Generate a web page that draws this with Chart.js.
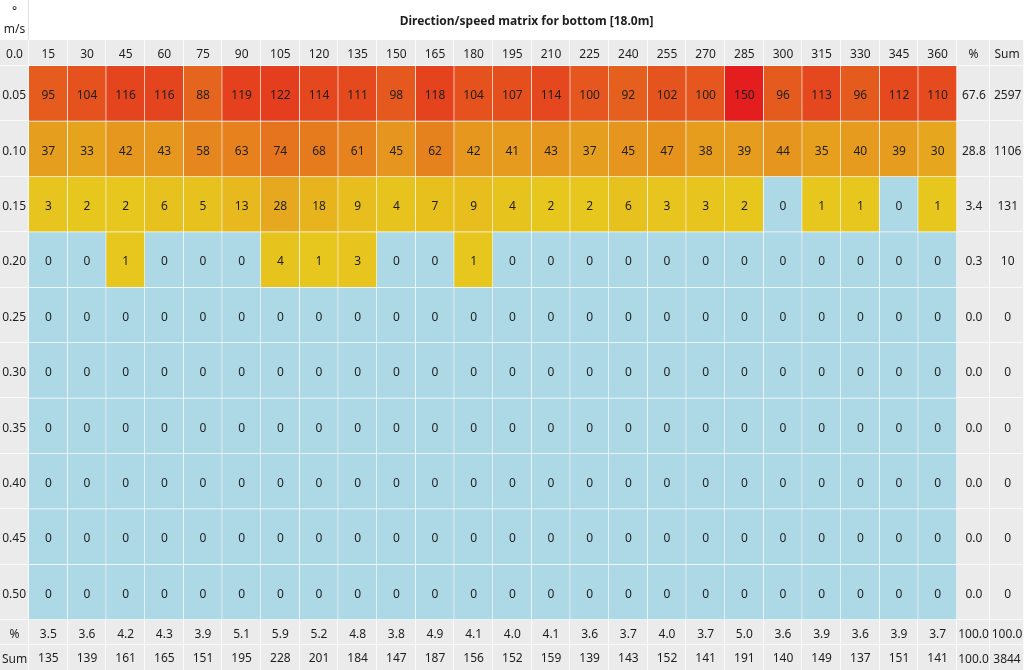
<!DOCTYPE html>
<html>
<head>
<meta charset="utf-8">
<script src="https://cdn.jsdelivr.net/npm/chart.js@4"></script>
<style>
html, body { margin: 0; padding: 0; background: #fff; }
#wrap { width: 1024px; height: 670px; }
</style>
</head>
<body>
<div id="wrap"><canvas id="matrix"></canvas></div>
<script>
const chart_title = 'Direction/speed matrix for bottom [18.0m]';
const directions = ['15', '30', '45', '60', '75', '90', '105', '120', '135', '150', '165', '180',
                    '195', '210', '225', '240', '255', '270', '285', '300', '315', '330', '345', '360'];
const speeds = ['0.05', '0.10', '0.15', '0.20', '0.25', '0.30', '0.35', '0.40', '0.45', '0.50'];
const counts = [
    [95, 104, 116, 116, 88, 119, 122, 114, 111, 98, 118, 104, 107, 114, 100, 92, 102, 100, 150, 96, 113, 96, 112, 110],
    [37, 33, 42, 43, 58, 63, 74, 68, 61, 45, 62, 42, 41, 43, 37, 45, 47, 38, 39, 44, 35, 40, 39, 30],
    [3, 2, 2, 6, 5, 13, 28, 18, 9, 4, 7, 9, 4, 2, 2, 6, 3, 3, 2, 0, 1, 1, 0, 1],
    [0, 0, 1, 0, 0, 0, 4, 1, 3, 0, 0, 1, 0, 0, 0, 0, 0, 0, 0, 0, 0, 0, 0, 0],
    [0, 0, 0, 0, 0, 0, 0, 0, 0, 0, 0, 0, 0, 0, 0, 0, 0, 0, 0, 0, 0, 0, 0, 0],
    [0, 0, 0, 0, 0, 0, 0, 0, 0, 0, 0, 0, 0, 0, 0, 0, 0, 0, 0, 0, 0, 0, 0, 0],
    [0, 0, 0, 0, 0, 0, 0, 0, 0, 0, 0, 0, 0, 0, 0, 0, 0, 0, 0, 0, 0, 0, 0, 0],
    [0, 0, 0, 0, 0, 0, 0, 0, 0, 0, 0, 0, 0, 0, 0, 0, 0, 0, 0, 0, 0, 0, 0, 0],
    [0, 0, 0, 0, 0, 0, 0, 0, 0, 0, 0, 0, 0, 0, 0, 0, 0, 0, 0, 0, 0, 0, 0, 0],
    [0, 0, 0, 0, 0, 0, 0, 0, 0, 0, 0, 0, 0, 0, 0, 0, 0, 0, 0, 0, 0, 0, 0, 0]
];
const row_pct = ['67.6', '28.8', '3.4', '0.3', '0.0', '0.0', '0.0', '0.0', '0.0', '0.0'];
const row_sum = ['2597', '1106', '131', '10', '0', '0', '0', '0', '0', '0'];
const col_pct = ['3.5', '3.6', '4.2', '4.3', '3.9', '5.1', '5.9', '5.2', '4.8', '3.8', '4.9', '4.1',
                 '4.0', '4.1', '3.6', '3.7', '4.0', '3.7', '5.0', '3.6', '3.9', '3.6', '3.9', '3.7'];
const col_sum = ['135', '139', '161', '165', '151', '195', '228', '201', '184', '147', '187', '156',
                 '152', '159', '139', '143', '152', '141', '191', '140', '149', '137', '151', '141'];
const total_pct = ['100.0', '100.0'];
const total_sum = ['100.0', '3844'];

const FONT = '"Segoe UI", "Noto Sans", sans-serif';
const TEXT = '#1e1e1e';
const GRAY = '#ebebeb';
const TXT_DY = 2; // Noto Sans sits a bit high with 'middle' baseline
const max_count = Math.max(...counts.flat());

function cellColor(v){
    if (v === 0)
        return '#add8e6';
    const t = v / max_count;
    const r = Math.round(231 - 3 * t);
    const g = Math.round(200 - 170 * t);
    return 'rgb(' + r + ',' + g + ',30)';
}

function rowTicks(scale){
    scale.ticks = speeds.map((s, i) => ({value: i + 0.5}));
}

function fixWidth(w){ return scale => { scale.width = w; }; }
function fixHeight(h){ return scale => { scale.height = h; }; }

const tickFont = {family: FONT, size: 12};

function rowAxis(position, weight, labels, width, pad){
    return {
        type: 'linear', position: position, weight: weight,
        min: 0, max: speeds.length, reverse: true,
        grid: {display: false, drawTicks: false}, border: {display: false},
        afterBuildTicks: rowTicks,
        afterFit: fixWidth(width),
        ticks: {autoSkip: false, crossAlign: 'center', padding: pad, labelOffset: TXT_DY,
                color: TEXT, font: tickFont, callback: (v, i) => labels[i]}
    };
}

function colAxis(position, weight, labels, height, pad){
    return {
        type: 'category', position: position, weight: weight, labels: labels, offset: true,
        grid: {display: false, drawTicks: false}, border: {display: false},
        afterFit: fixHeight(height),
        ticks: {autoSkip: false, maxRotation: 0, padding: pad, color: TEXT, font: tickFont}
    };
}

// background, white cell lines, corner texts and title
const cellFrame = {
    id: 'cellFrame',
    beforeDraw(chart){
        const ctx = chart.ctx;
        const s = chart.scales;
        const W = chart.width, H = chart.height;
        const top = s.x.top;
        ctx.save();
        ctx.fillStyle = GRAY;
        ctx.fillRect(0, top, W, H - top);
        ctx.fillStyle = '#fff';
        ctx.fillRect(0, 0, W, top);

        ctx.strokeStyle = '#fafafa';
        ctx.lineWidth = 1;
        ctx.beginPath();
        const cw = (s.x.right - s.x.left) / directions.length;
        for (let i = 0; i <= directions.length; i++){
            const x = Math.round(s.x.left + i * cw) - 0.5;
            ctx.moveTo(x, top); ctx.lineTo(x, H);
        }
        for (const k of ['p', 's']){
            const x = Math.round(s[k].right) - 0.5;
            ctx.moveTo(x, top); ctx.lineTo(x, H);
        }
        for (let i = 0; i <= speeds.length; i++){
            const y = Math.round(s.y.getPixelForValue(i)) - 0.5;
            ctx.moveTo(0, y); ctx.lineTo(W, y);
        }
        const yb = Math.round(s.xp.bottom) - 0.5;
        ctx.moveTo(0, yb); ctx.lineTo(W, yb);
        ctx.stroke();

        // title band divider
        ctx.strokeStyle = '#e2e2e2';
        ctx.beginPath();
        const xd = Math.round(s.y.right) - 0.5;
        ctx.moveTo(xd, 0); ctx.lineTo(xd, top);
        ctx.stroke();

        ctx.fillStyle = TEXT;
        ctx.textAlign = 'center';
        ctx.textBaseline = 'middle';
        ctx.font = 'bold 12px ' + FONT;
        ctx.fillText(chart_title, (s.y.right + W) / 2, top / 2 + TXT_DY);

        ctx.font = '12px ' + FONT;
        const cx0 = (s.y.left + s.y.right) / 2;
        ctx.fillText('°', cx0, top * 0.3);
        ctx.fillText('m/s', cx0, top * 0.7 + TXT_DY);

        const cyTop = (s.x.top + s.x.bottom) / 2 + TXT_DY;
        const cyP = (s.xp.top + s.xp.bottom) / 2 + TXT_DY;
        const cyS = (s.xs.top + s.xs.bottom) / 2 + TXT_DY;
        const cxP = (s.p.left + s.p.right) / 2;
        const cxS = (s.s.left + s.s.right) / 2;
        ctx.fillText('0.0', cx0, cyTop);
        ctx.fillText('%', cxP, cyTop);
        ctx.fillText('Sum', cxS, cyTop);
        ctx.fillText('%', cx0, cyP);
        ctx.fillText('Sum', cx0, cyS);
        ctx.fillText(total_pct[0], cxP, cyP);
        ctx.fillText(total_pct[1], cxS, cyP);
        ctx.fillText(total_sum[0], cxP, cyS);
        ctx.fillText(total_sum[1], cxS, cyS);
        ctx.restore();
    },
    afterDatasetsDraw(chart){
        const ctx = chart.ctx;
        ctx.save();
        ctx.fillStyle = TEXT;
        ctx.textAlign = 'center';
        ctx.textBaseline = 'middle';
        ctx.font = '12px ' + FONT;
        chart.data.datasets.forEach((ds, r) => {
            chart.getDatasetMeta(r).data.forEach((bar, c) => {
                const p = bar.getCenterPoint();
                ctx.fillText(String(ds.counts[c]), p.x, p.y + TXT_DY);
            });
        });
        ctx.restore();
    }
};

const datasets = speeds.map((s, r) => ({
    label: s,
    counts: counts[r],
    data: directions.map(() => [r, r + 1]),
    backgroundColor: counts[r].map(cellColor),
    borderColor: 'rgba(255,255,255,0.55)',
    borderWidth: {top: 0, left: 0, right: 1, bottom: 1},
    borderSkipped: false,
    grouped: false,
    barPercentage: 1,
    categoryPercentage: 1
}));

new Chart(document.getElementById('matrix'), {
    type: 'bar',
    data: {labels: directions, datasets: datasets},
    plugins: [cellFrame],
    options: {
        responsive: true,
        maintainAspectRatio: false,
        animation: false,
        layout: {padding: {top: 40}},
        plugins: {legend: {display: false}, tooltip: {enabled: false}, title: {display: false}},
        scales: {
            x: colAxis('top', 0, directions, 26, 4),
            xp: colAxis('bottom', 1, col_pct, 25, 7),
            xs: colAxis('bottom', 2, col_sum, 25, 6),
            y: rowAxis('left', 0, speeds, 29, 3),
            p: rowAxis('right', 1, row_pct, 33, 5),
            s: rowAxis('right', 2, row_sum, 34, 4)
        }
    }
});
</script>
</body>
</html>
